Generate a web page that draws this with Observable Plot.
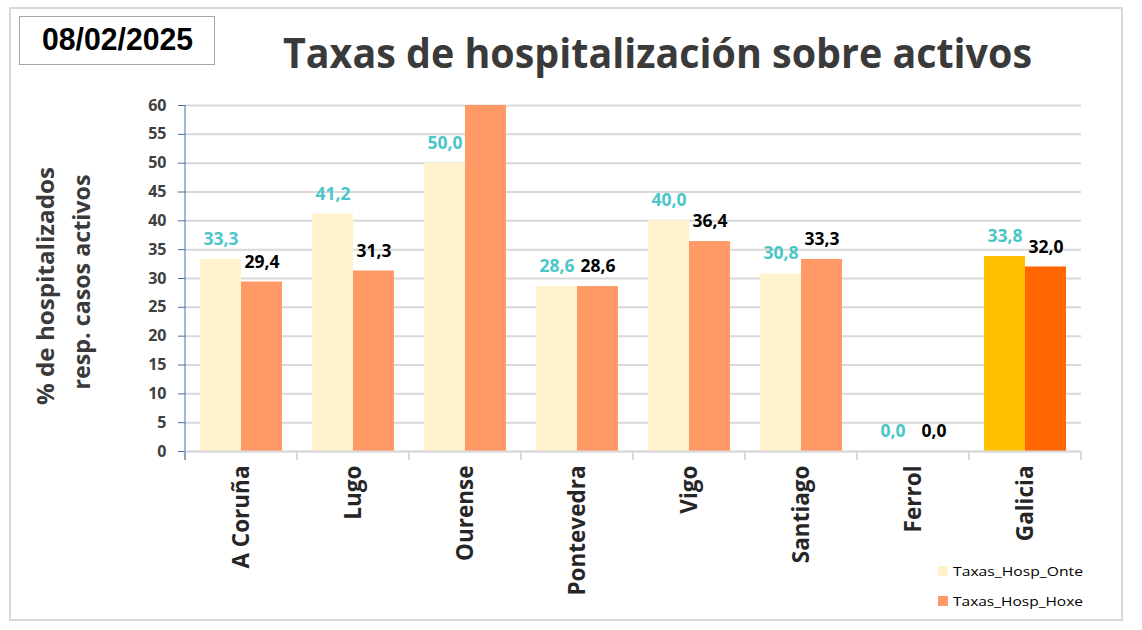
<!DOCTYPE html>
<html><head><meta charset="utf-8">
<script src="https://cdn.jsdelivr.net/npm/d3@7"></script>
<script src="https://cdn.jsdelivr.net/npm/@observablehq/plot@0.6"></script>
<style>body{margin:0;background:#fff} #chart{position:relative;width:1142px;height:630px}</style>
</head><body><div id="chart"></div>
<script>
const categories = ["A Coruña","Lugo","Ourense","Pontevedra","Vigo","Santiago","Ferrol","Galicia"];
const series = ["Taxas_Hosp_Onte","Taxas_Hosp_Hoxe"];
const onte = [33.3, 41.2, 50.0, 28.6, 40.0, 30.8, 0.0, 33.8];
const hoxe = [29.4, 31.3, 66.7, 28.6, 36.4, 33.3, 0.0, 32.0];
const yTicks = [0,5,10,15,20,25,30,35,40,45,50,55,60];
const yMax = 60;
const dateText = "08/02/2025";
const titleText = "Taxas de hospitalización sobre activos";
const yLabel = ["% de hospitalizados", "resp. casos activos"];

const fmt = v => v.toFixed(1).replace(".", ",");
const rows = categories.flatMap((c, i) => [
  {cat: c, serie: series[0], value: onte[i]},
  {cat: c, serie: series[1], value: hoxe[i]}
]);
const fillOf = d => d.cat === "Galicia"
  ? (d.serie === series[0] ? "#FFC000" : "#FF6600")
  : (d.serie === series[0] ? "#FFF2CC" : "#FF9966");
const labelColor = d => d.serie === series[0] ? "#4BC6C8" : "#000000";

const plot = Plot.plot({
  width: 1142, height: 630,
  marginTop: 105, marginBottom: 179, marginLeft: 182, marginRight: 58,
  style: {fontFamily: "'Open Sans', sans-serif", background: "transparent", overflow: "visible"},
  fx: {domain: categories, padding: 0, label: null},
  x: {domain: series, paddingInner: 0, paddingOuter: 0.36, axis: null},
  y: {domain: [0, yMax], label: null},
  color: {type: "identity"},
  marks: [
    Plot.gridY(yTicks, {stroke: "#d9d9d9", strokeOpacity: 1, strokeWidth: 2}),
    Plot.barY(rows, {fx: "cat", x: "serie", y: "value", fill: fillOf, clip: true}),
    Plot.ruleY([0], {stroke: "#d9d9d9", strokeWidth: 2}),
    Plot.text(rows.filter(d => d.value <= yMax), {fx: "cat", x: "serie", y: "value", text: d => fmt(d.value), fill: labelColor,
      dy: -20, fontSize: 17.5, fontWeight: "bold"}),
    Plot.axisY(yTicks, {tickSize: 7, tickPadding: 12, fontSize: 16, fontWeight: "bold",
      stroke: "#4a6fa5", fill: "#404040", label: null, tickFormat: d => d}),
    Plot.axisFx({anchor: "bottom", tickRotate: -90, tickSize: 0, tickPadding: 14, fontSize: 22.5,
      fontWeight: "bold", fill: "#262626", label: null})
  ]
});
document.getElementById("chart").appendChild(plot);

const svg = d3.select(plot);
const fxs = plot.scale("fx"), ys = plot.scale("y");
const edges = categories.map(c => fxs.apply(c));
edges.push(edges[edges.length - 1] + fxs.bandwidth);
const y0 = ys.apply(0), yTop = ys.apply(yMax);

const g = svg.append("g").attr("text-anchor", "start");
// outer border
g.append("rect").attr("x", 10).attr("y", 8).attr("width", 1112).attr("height", 612)
  .attr("fill", "none").attr("stroke", "#d9d9d9").attr("stroke-width", 2);
// x tick marks at band edges
g.selectAll("line.xt").data(edges).join("line").attr("class", "xt")
  .attr("x1", d => d).attr("x2", d => d).attr("y1", y0).attr("y2", y0 + 9)
  .attr("stroke", "#d9d9d9").attr("stroke-width", 2);
// y axis line
g.append("line").attr("x1", edges[0]).attr("x2", edges[0]).attr("y1", yTop).attr("y2", y0 + 9)
  .attr("stroke", "#4a6fa5").attr("stroke-width", 1);
// date box
g.append("rect").attr("x", 19.5).attr("y", 16.5).attr("width", 195).attr("height", 48)
  .attr("fill", "white").attr("stroke", "#a6a6a6").attr("stroke-width", 1);
g.append("text").attr("x", 42).attr("y", 50).attr("text-anchor", "start").text(dateText)
  .attr("font-family", "'Liberation Sans', Arial, sans-serif").attr("font-weight", "bold")
  .attr("font-size", 31).attr("textLength", 151).attr("lengthAdjust", "spacingAndGlyphs").attr("fill", "#000");
// title
g.append("text").attr("x", 283).attr("y", 68).attr("text-anchor", "start").text(titleText)
  .attr("font-family", "'Open Sans', sans-serif").attr("font-weight", "bold")
  .attr("font-size", 42).attr("textLength", 749).attr("lengthAdjust", "spacingAndGlyphs").attr("fill", "#3a3a3a");
// y label
[[54, 286, 238], [90, 282, 215]].forEach(([x, y, len], i) => {
  g.append("text").attr("transform", `translate(${x},${y}) rotate(-90)`).attr("text-anchor", "middle")
    .text(yLabel[i]).attr("font-family", "'Open Sans', sans-serif").attr("font-weight", "bold")
    .attr("font-size", 24).attr("textLength", len).attr("lengthAdjust", "spacingAndGlyphs").attr("fill", "#3a3a3a");
});
// legend
const legendColors = ["#FFF2CC", "#FF9966"];
series.forEach((s, i) => {
  const ly = 566 + i * 30;
  g.append("rect").attr("x", 938).attr("y", ly).attr("width", 10).attr("height", 10).attr("fill", legendColors[i]);
  g.append("text").attr("x", 953).attr("y", ly + 5).attr("dy", "0.35em").attr("text-anchor", "start").text(s)
    .attr("font-family", "'Open Sans', sans-serif").attr("font-size", 13)
    .attr("textLength", 130).attr("lengthAdjust", "spacingAndGlyphs").attr("fill", "#000");
});
</script></body></html>
